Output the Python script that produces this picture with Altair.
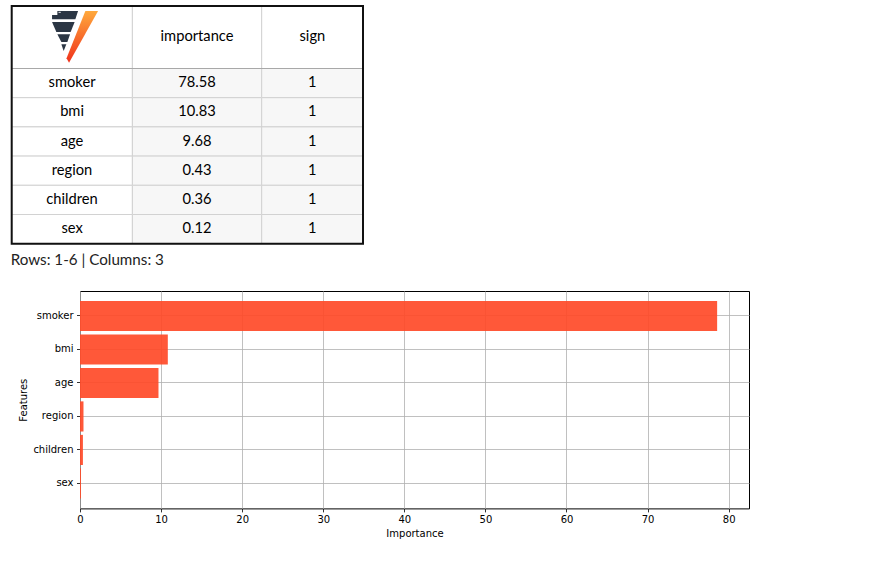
import base64
import altair as alt
import pandas as pd

# ---------------- data ----------------
features = ["smoker", "bmi", "age", "region", "children", "sex"]
importance = [78.58, 10.83, 9.68, 0.43, 0.36, 0.12]
sign = [1, 1, 1, 1, 1, 1]
header = ["", "importance", "sign"]
caption_text = "Rows: 1-6 | Columns: 3"
x_ticks = [0, 10, 20, 30, 40, 50, 60, 70, 80]

# ---------------- layout constants ----------------
col_w = [120.7, 129.3, 101.3]
head_h = 62.5
row_h = 29.2
table_w = sum(col_w)
table_h = head_h + row_h * len(features)
plot_left_offset = 68.3          # table starts this far left of the plot area

TXT_FONT = "Lato"
MPL_FONT = "DejaVu Sans"

# ---------------- table cells ----------------
col_x = [0, col_w[0], col_w[0] + col_w[1], table_w]
cells = []
for r in range(len(features) + 1):
    y0 = 0 if r == 0 else head_h + (r - 1) * row_h
    y1 = head_h if r == 0 else y0 + row_h
    if r == 0:
        labels = header
    else:
        i = r - 1
        labels = [features[i], f"{importance[i]:.2f}", str(sign[i])]
    for c in range(3):
        fill = "#ffffff" if (r == 0 or c == 0) else "#f7f7f7"
        cells.append(dict(x0=col_x[c], x1=col_x[c + 1], y0=y0, y1=y1,
                          xc=(col_x[c] + col_x[c + 1]) / 2, yc=(y0 + y1) / 2,
                          fill=fill, label=labels[c]))
cells_df = pd.DataFrame(cells)

xs = alt.Scale(domain=[0, table_w], range=[-plot_left_offset, table_w - plot_left_offset], nice=False, zero=False)
ys = alt.Scale(domain=[0, table_h], range=[0, table_h], nice=False, zero=False)

cell_rects = alt.Chart(cells_df).mark_rect(stroke="#d2d2d2", strokeWidth=1).encode(
    x=alt.X("x0:Q", scale=xs, axis=None), x2="x1:Q",
    y=alt.Y("y0:Q", scale=ys, axis=None), y2="y1:Q",
    fill=alt.Fill("fill:N", scale=None),
)
cell_text = alt.Chart(cells_df).mark_text(font=TXT_FONT, fontSize=14.7, color="#000000",
                                          baseline="middle", align="center").encode(
    x=alt.X("xc:Q", scale=xs, axis=None),
    y=alt.Y("yc:Q", scale=ys, axis=None),
    text="label:N",
)
head_line_df = pd.DataFrame([dict(x0=0, x1=table_w, y=head_h)])
head_line = alt.Chart(head_line_df).mark_rule(color="#a8a8a8", strokeWidth=1).encode(
    x=alt.X("x0:Q", scale=xs, axis=None), x2="x1:Q",
    y=alt.Y("y:Q", scale=ys, axis=None),
)
border_df = pd.DataFrame([dict(x0=0, x1=table_w, y0=0, y1=table_h)])
border = alt.Chart(border_df).mark_rect(fillOpacity=0, stroke="#111111", strokeWidth=2).encode(
    x=alt.X("x0:Q", scale=xs, axis=None), x2="x1:Q",
    y=alt.Y("y0:Q", scale=ys, axis=None), y2="y1:Q",
)

# logo (image in the header cell)
logo_svg = """<svg xmlns="http://www.w3.org/2000/svg" width="54" height="56" viewBox="0 0 54 56">
<defs><linearGradient id="g" x1="0" y1="0" x2="0" y2="1">
<stop offset="0" stop-color="#ffa93c"/><stop offset="1" stop-color="#f0321c"/></linearGradient></defs>
<polygon points="40.3,2.75 53,2.75 24,54.5 21.5,50" fill="url(#g)"/>
<polygon points="12.3,2.75 33,2.75 30.3,11 7,11 7,6.75 12.3,6.75" fill="#2b3644"/>
<rect x="13.5" y="3.6" width="2.2" height="0.9" fill="#ffffff"/>
<polygon points="7,13.75 29.6,13.75 25.6,23.75 11.3,23.75" fill="#2b3644"/>
<polygon points="12.3,26 25,26 22.3,33.75 16.3,33.75" fill="#2b3644"/>
<polygon points="16.3,36 21.3,36 18.6,42.75" fill="#2b3644"/>
</svg>"""
logo_url = "data:image/svg+xml;base64," + base64.b64encode(logo_svg.encode()).decode()
logo_df = pd.DataFrame([dict(xc=col_w[0] / 2, yc=head_h / 2 - 1, url=logo_url)])
logo = alt.Chart(logo_df).mark_image(width=54, height=56).encode(
    x=alt.X("xc:Q", scale=xs, axis=None),
    y=alt.Y("yc:Q", scale=ys, axis=None),
    url="url:N",
)

table = alt.layer(cell_rects, head_line, cell_text, border, logo).properties(
    width=table_w - plot_left_offset, height=table_h,
    view=alt.ViewBackground(strokeOpacity=0),
)

# ---------------- caption ----------------
cap_df = pd.DataFrame([dict(t=caption_text)])
caption = alt.Chart(cap_df).mark_text(font=TXT_FONT, fontSize=15.2, color="#222222",
                                      align="left", baseline="alphabetic").encode(
    x=alt.value(-plot_left_offset - 1),
    y=alt.value(11.3),
    text="t:N",
).properties(width=table_w - plot_left_offset, height=26.6,
             view=alt.ViewBackground(strokeOpacity=0))

# ---------------- bar chart ----------------
bars_df = pd.DataFrame(dict(feature=features, importance=importance))
bars = alt.Chart(bars_df).mark_bar(color="#ff4a28", opacity=0.92).encode(
    x=alt.X("importance:Q",
            scale=alt.Scale(domain=[0, 82.51], nice=False, zero=True),
            axis=alt.Axis(values=x_ticks, title="Importance", grid=True, gridColor="#b0b0b0",
                          gridWidth=0.8, domain=False, tickColor="#000000", tickSize=3.5,
                          tickWidth=0.8, labelFont=MPL_FONT, labelFontSize=10, labelColor="#000000",
                          labelPadding=3, labelFlush=False, labelOverlap=False, titleFont=MPL_FONT,
                          titleFontSize=10, titleFontWeight="normal", titleColor="#000000",
                          titlePadding=4, format="d")),
    y=alt.Y("feature:N", sort=features,
            scale=alt.Scale(paddingInner=0.1, paddingOuter=0.295),
            axis=alt.Axis(title="Features", bandPosition=0.5, grid=True, gridColor="#b0b0b0",
                          gridWidth=0.8, domain=False, tickColor="#000000", tickSize=3.5,
                          tickWidth=0.8, labelFont=MPL_FONT, labelFontSize=10, labelColor="#000000",
                          labelPadding=3.5, titleFont=MPL_FONT, titleFontSize=10,
                          titleFontWeight="normal", titleColor="#000000", titlePadding=4)),
).properties(width=669, height=217.4,
             view=alt.ViewBackground(stroke="#000000", strokeWidth=1, strokeOpacity=1))

chart = alt.vconcat(table, caption, bars, spacing=10, bounds="flush").properties(
    padding={"left": 10, "top": 5, "right": 10, "bottom": 10},
    background="white",
).configure_view(stroke="#000000", strokeWidth=1)

chart.save("out.html", embed_options={"renderer": "svg", "actions": False})
